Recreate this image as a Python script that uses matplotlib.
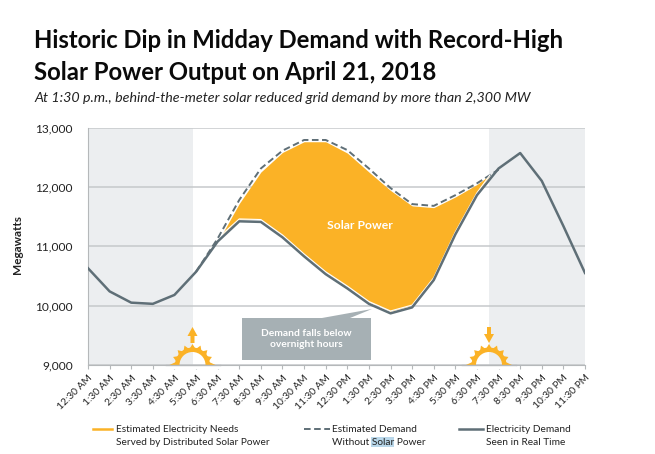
import matplotlib
matplotlib.use("Agg")
import matplotlib.pyplot as plt
from matplotlib.patches import Polygon, Rectangle, Wedge
import numpy as np

plt.rcParams["font.family"] = ["Lato", "DejaVu Sans"]

# ── data ───────────────────────────────────────────────────
hours = ["12:30 AM", "1:30 AM", "2:30 AM", "3:30 AM", "4:30 AM", "5:30 AM", "6:30 AM", "7:30 AM",
         "8:30 AM", "9:30 AM", "10:30 AM", "11:30 AM", "12:30 PM", "1:30 PM", "2:30 PM", "3:30 PM",
         "4:30 PM", "5:30 PM", "6:30 PM", "7:30 PM", "8:30 PM", "9:30 PM", "10:30 PM", "11:30 PM"]
real_time = [10630, 10240, 10050, 10030, 10180, 10570, 11080, 11420, 11410, 11150, 10830, 10530,
             10290, 10030, 9870, 9970, 10430, 11200, 11860, 12310, 12570, 12100, 11340, 10550]
no_solar_idx = [5, 6, 7, 8, 9, 10, 11, 12, 13, 14, 15, 16, 17, 18, 19]
no_solar = [10570, 11130, 11780, 12310, 12610, 12790, 12790, 12620, 12310, 11980, 11710, 11680,
            11860, 12060, 12290]
solar_idx = [6.2, 7, 8, 9, 10, 11, 12, 13, 14, 15, 16, 17, 18, 18.6]
solar_top = [11200, 11720, 12250, 12580, 12760, 12760, 12570, 12250, 11940, 11680, 11650, 11830,
             12040, 12200]
solar_bottom = [11200, 11460, 11450, 11190, 10870, 10570, 10330, 10070, 9910, 10010, 10470, 11240,
                11900, 12200]
night_spans = [(0, 4.86), (18.57, 23)]

GREY_LINE = "#5f6f77"
ORANGE = "#fbb226"
TEXT = "#222222"

fig = plt.figure(figsize=(6.55, 4.54), dpi=100)
ax = fig.add_axes([88 / 655, 1 - 365 / 454, 497 / 655, 237.5 / 454])
x = np.arange(len(hours))

# ── main chart ─────────────────────────────────────────────
for start, end in night_spans:
    ax.axvspan(start, end, color="#eceef0", lw=0, zorder=0)
ax.set_yticks([9000, 10000, 11000, 12000, 13000])
ax.set_yticklabels(["9,000", "10,000", "11,000", "12,000", "13,000"], fontsize=8.6, color=TEXT)
ax.grid(axis="y", color="#c6c9cb", lw=1.1, zorder=1)
ax.fill_between(solar_idx, solar_bottom, solar_top, color=ORANGE, lw=0, zorder=2)
ax.plot(no_solar_idx, no_solar, color=GREY_LINE, lw=1.4, ls=(0, (3.4, 1.8)), zorder=3)
ax.plot(x, real_time, color=GREY_LINE, lw=1.8, zorder=4)
ax.plot(solar_idx, solar_bottom, color="white", lw=0.8, zorder=3)
ax.text(12.6, 11357, "Solar Power", color="white", fontsize=8.7, fontweight="bold",
        ha="center", va="center", zorder=5)

ax.set_xlim(0, 23)
ax.set_ylim(9000, 13000)
ax.set_xticks(x)
ax.set_xticklabels(hours, rotation=45, ha="right", rotation_mode="anchor", fontsize=7.3, color=TEXT)
ax.tick_params(axis="x", length=3, color="#b5b8ba", width=0.8, pad=3)
ax.tick_params(axis="y", length=0, pad=11)
for side in ["top", "right"]:
    ax.spines[side].set_visible(False)
ax.spines["left"].set_color("#b5b8ba")
ax.spines["bottom"].set_color("#b5b8ba")
ax.set_axisbelow(True)

# ── overlay in image pixels: titles, callout, suns, legend ─
ov = fig.add_axes([0, 0, 1, 1], facecolor="none")
ov.set_xlim(0, 655)
ov.set_ylim(454, 0)
ov.axis("off")

ov.text(34, 41, "Historic Dip in Midday Demand with Record-High", fontsize=17.2, fontweight="bold",
        color="#0a0a0a", va="center")
ov.text(34, 73, "Solar Power Output on April 21, 2018", fontsize=17.2, fontweight="bold",
        color="#0a0a0a", va="center")
ov.text(34, 98, "At 1:30 p.m., behind-the-meter solar reduced grid demand by more than 2,300 MW",
        fontsize=10.25, style="italic", color=TEXT, va="center")
ov.text(18, 245, "Megawatts", fontsize=8.5, fontweight="bold", color=TEXT, rotation=90,
        ha="center", va="center")

# callout
ov.add_patch(Polygon([(242, 318), (322, 318), (372, 309), (350, 318), (371, 318), (371, 360), (242, 360)],
                     closed=True, color="#a6b0b4", lw=0))
ov.text(306, 339, "Demand falls below\novernight hours", color="white", fontsize=7.4,
        fontweight="bold", ha="center", va="center", linespacing=1.35)


def draw_sun(cx, arrow_up):
    base = 365
    for ang in np.arange(0, 181, 22.5):
        a = np.radians(ang)
        tip_r = 23 if ang in (0, 180) else 21
        tip = (cx + tip_r * np.cos(a), base - tip_r * np.sin(a))
        left = (cx + 15 * np.cos(a - 0.27), base - 15 * np.sin(a - 0.27))
        right = (cx + 15 * np.cos(a + 0.27), base - 15 * np.sin(a + 0.27))
        ov.add_patch(Polygon([tip, left, right], closed=True, color=ORANGE, lw=0))
    ov.add_patch(Wedge((cx, base), 17.5, 180, 360, width=4.5, color=ORANGE, lw=0))
    ov.add_patch(Rectangle((cx - 27, base), 54, 4, color="white", lw=0))
    ov.plot([cx - 27, cx + 27], [base, base], color="#b5b8ba", lw=1)
    if arrow_up:
        ov.add_patch(Polygon([(cx, 327), (cx + 5, 336), (cx + 2, 336), (cx + 2, 343), (cx - 2, 343),
                              (cx - 2, 336), (cx - 5, 336)], closed=True, color=ORANGE, lw=0))
    else:
        ov.add_patch(Polygon([(cx, 343), (cx + 5, 334), (cx + 2, 334), (cx + 2, 327), (cx - 2, 327),
                              (cx - 2, 334), (cx - 5, 334)], closed=True, color=ORANGE, lw=0))


draw_sun(192.5, True)
draw_sun(489, False)

# legend
ov.add_patch(Rectangle((371, 437), 23, 10, color="#b9d7ea", lw=0))
ov.plot([93, 112], [429, 429], color=ORANGE, lw=1.8)
ov.plot([304, 330], [429, 429], color=GREY_LINE, lw=1.4, ls=(0, (3.4, 1.8)))
ov.plot([459, 483], [429, 429], color=GREY_LINE, lw=1.8)
legend_texts = [(116, "Estimated Electricity Needs", "Served by Distributed Solar Power"),
                (332, "Estimated Demand", "Without Solar Power"),
                (486, "Electricity Demand", "Seen in Real Time")]
for lx, line1, line2 in legend_texts:
    ov.text(lx, 429, line1, fontsize=7.3, color=TEXT, va="center")
    ov.text(lx, 442.5, line2, fontsize=7.3, color=TEXT, va="center")

fig.savefig("out.png", dpi=100)
